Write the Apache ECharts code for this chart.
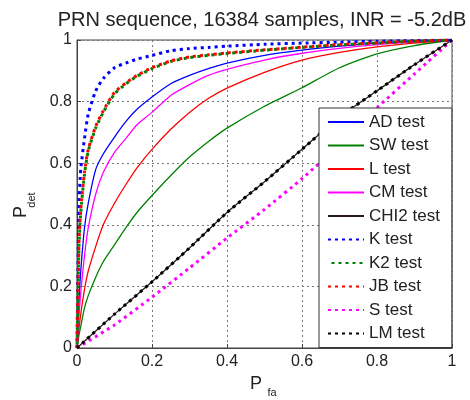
<!DOCTYPE html>
<html><head><meta charset="utf-8">
<script src="https://cdn.jsdelivr.net/npm/echarts@6/dist/echarts.min.js"></script>
<style>html,body{margin:0;padding:0;background:#fff}#c{width:470px;height:400px}</style>
</head><body><div id="c"></div>
<script>
const titleText = 'PRN sequence, 16384 samples, INR = -5.2dB';
const xName = 'P', xSub = 'fa';
const yName = 'P', ySub = 'det';
const seriesNames = ['AD test','SW test','L test','CM test','CHI2 test','K test','K2 test','JB test','S test','LM test'];
const pfa = [0, 0.005, 0.01, 0.02, 0.03, 0.05, 0.07, 0.1, 0.13, 0.16, 0.2, 0.25, 0.3, 0.35, 0.4, 0.5, 0.6, 0.7, 0.8, 0.9, 1];
const pdAD = [0, 0.15, 0.25, 0.39, 0.47, 0.58, 0.63, 0.685, 0.735, 0.775, 0.815, 0.858, 0.885, 0.907, 0.925, 0.95, 0.967, 0.98, 0.99, 0.996, 1];
const pdSW = [0, 0.04, 0.07, 0.13, 0.17, 0.23, 0.28, 0.335, 0.39, 0.44, 0.495, 0.56, 0.62, 0.67, 0.714, 0.785, 0.845, 0.91, 0.955, 0.982, 1];
const pdL  = [0, 0.06, 0.11, 0.19, 0.25, 0.33, 0.4, 0.47, 0.53, 0.585, 0.645, 0.71, 0.765, 0.81, 0.844, 0.895, 0.935, 0.96, 0.978, 0.99, 1];
const pdCM = [0, 0.1, 0.18, 0.3, 0.39, 0.5, 0.57, 0.635, 0.68, 0.725, 0.765, 0.82, 0.855, 0.885, 0.905, 0.935, 0.957, 0.973, 0.985, 0.994, 1];
const pdK  = [0, 0.45, 0.58, 0.68, 0.76, 0.835, 0.875, 0.91, 0.925, 0.938, 0.95, 0.965, 0.972, 0.976, 0.98, 0.986, 0.99, 0.993, 0.996, 0.998, 1];
const pdK2 = [0, 0.32, 0.44, 0.565, 0.64, 0.715, 0.765, 0.825, 0.857, 0.882, 0.907, 0.93, 0.943, 0.95, 0.956, 0.967, 0.976, 0.984, 0.99, 0.996, 1];
const pdJB = [0, 0.33, 0.45, 0.57, 0.645, 0.72, 0.77, 0.83, 0.86, 0.885, 0.91, 0.932, 0.945, 0.952, 0.958, 0.968, 0.977, 0.985, 0.991, 0.996, 1];
const pfaLin = [0, 0.1, 0.2, 0.3, 0.4, 0.5, 0.6, 0.7, 0.8, 0.9, 1];
const pdCHI2 = [0, 0.11, 0.215, 0.325, 0.44, 0.54, 0.645, 0.75, 0.835, 0.92, 1];
const pdLM   = [0, 0.11, 0.215, 0.325, 0.44, 0.54, 0.645, 0.75, 0.835, 0.92, 1];
const pdS    = [0, 0.075, 0.165, 0.26, 0.357, 0.45, 0.55, 0.66, 0.78, 0.89, 1];

const pairs = (xs, ys) => xs.map((x, i) => [x, ys[i]]);
const dot = [3, 4];
function mk(name, xs, ys, color, dotted, offset) {
  return {
    name, type: 'line', data: pairs(xs, ys), symbol: 'none', smooth: 0.2,
    lineStyle: dotted ? {color, width: 3, type: dot, cap: 'butt', dashOffset: offset || 0}
                      : {color, width: 1.3, type: 'solid'},
    itemStyle: {color}
  };
}
const series = [
  mk(seriesNames[0], pfa, pdAD, '#0000ff', false),
  mk(seriesNames[1], pfa, pdSW, '#008000', false),
  mk(seriesNames[2], pfa, pdL, '#ff0000', false),
  mk(seriesNames[3], pfa, pdCM, '#ff00ff', false),
  mk(seriesNames[4], pfaLin, pdCHI2, '#2a1a1a', false),
  mk(seriesNames[5], pfa, pdK, '#0000ff', true),
  mk(seriesNames[6], pfa, pdK2, '#008000', true, 3.5),
  mk(seriesNames[7], pfa, pdJB, '#ff0000', true),
  mk(seriesNames[8], pfaLin, pdS, '#ff00ff', true),
  mk(seriesNames[9], pfaLin, pdLM, '#000000', true)
];
const font = 'Liberation Sans, Arial, sans-serif';
const chart = echarts.init(document.getElementById('c'));
chart.setOption({
  animation: false,
  textStyle: {fontFamily: font},
  grid: {left: 77, right: 18, top: 40, bottom: 52, show: true, borderColor: '#444', borderWidth: 1, backgroundColor: '#fff'},
  xAxis: {type: 'value', min: 0, max: 1, interval: 0.2,
    axisLine: {show: true, lineStyle: {color: '#444'}},
    axisTick: {show: true, inside: true, length: 4, lineStyle: {color: '#444'}},
    axisLabel: {fontSize: 16, color: '#222', margin: 6, fontFamily: font},
    splitLine: {show: true, lineStyle: {color: '#777', type: [2, 3], width: 1}}},
  yAxis: {type: 'value', min: 0, max: 1, interval: 0.2,
    axisLine: {show: true, lineStyle: {color: '#444'}},
    axisTick: {show: true, inside: true, length: 4, lineStyle: {color: '#444'}},
    axisLabel: {fontSize: 16, color: '#222', margin: 5, fontFamily: font},
    splitLine: {show: true, lineStyle: {color: '#777', type: [2, 3], width: 1}}},
  legend: {orient: 'vertical', left: 319, top: 108, data: seriesNames,
    itemWidth: 36, itemHeight: 14, itemGap: 6.5,
    padding: [5.5, 12, 5.5, 8],
    itemStyle: {opacity: 0},
    backgroundColor: '#fff', borderColor: '#333', borderWidth: 1,
    textStyle: {fontSize: 17, color: '#222', lineHeight: 17, fontFamily: font}},
  graphic: [
    {type: 'text', x: 262, y: 20, style: {text: titleText, font: '20px ' + font, fill: '#222', align: 'center', verticalAlign: 'middle'}},
    {type: 'text', x: 256, y: 384, style: {text: xName, font: '18px ' + font, fill: '#222', align: 'center', verticalAlign: 'middle'}},
    {type: 'text', x: 272, y: 393, style: {text: xSub, font: '11px ' + font, fill: '#222', align: 'center', verticalAlign: 'middle'}},
    {type: 'text', x: 21, y: 212, rotation: Math.PI / 2, style: {text: yName, font: '18px ' + font, fill: '#222', align: 'center', verticalAlign: 'middle'}},
    {type: 'text', x: 32, y: 200, rotation: Math.PI / 2, style: {text: ySub, font: '11px ' + font, fill: '#222', align: 'center', verticalAlign: 'middle'}}
  ],
  series
});
</script></body></html>
